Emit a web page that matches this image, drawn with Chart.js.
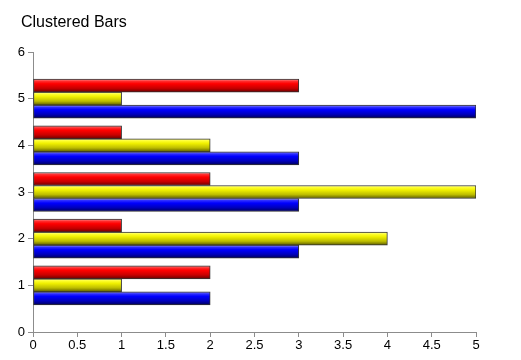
<!DOCTYPE html>
<html>
<head>
<meta charset="utf-8">
<script src="https://cdn.jsdelivr.net/npm/chart.js@4/dist/chart.umd.min.js"></script>
<style>
    body { margin: 0; background: #fff; }
    .wrap { position: relative; width: 521px; height: 360px; }
    #chart { display: block; }
    .title {
        position: absolute;
        left: 21px;
        top: 12px;
        font: 16px 'Liberation Sans', Arial, sans-serif;
        line-height: 20px;
        color: #000;
    }
</style>
</head>
<body>
<div class="wrap">
    <canvas id="chart" width="521" height="360"></canvas>
    <div class="title">Clustered Bars</div>
</div>
<script>
// Chart data
const categories = [1, 2, 3, 4, 5];
const redValues = [2, 1, 2, 1, 3];
const yellowValues = [1, 4, 5, 2, 1];
const blueValues = [2, 3, 3, 3, 5];
const xTicks = [0, 0.5, 1, 1.5, 2, 2.5, 3, 3.5, 4, 4.5, 5];
const yTicks = [0, 1, 2, 3, 4, 5, 6];

// Gradient stops for the shaded bars
const shades = {
    red: ['#ffa0a0', '#ff3030', '#ff0000', '#c80000', '#680000'],
    yellow: ['#ffffa8', '#ffff30', '#f0f000', '#bcbc00', '#5a5a00'],
    blue: ['#a0a0ff', '#3030ff', '#0000ff', '#0000bc', '#00005a']
};
const stopPos = [0, 0.15, 0.35, 0.7, 1];

function toPoints(values) {
    return values.map((v, i) => ({ x: v, y: categories[i] }));
}

// Paint each bar with a vertical gradient before drawing
const barShading = {
    id: 'barShading',
    beforeDatasetsDraw(chart) {
        const ctx = chart.ctx;
        chart.data.datasets.forEach((ds, di) => {
            const meta = chart.getDatasetMeta(di);
            meta.data.forEach(el => {
                const top = el.y - el.height / 2;
                const grad = ctx.createLinearGradient(0, top, 0, top + el.height);
                shades[ds.shade].forEach((c, k) => grad.addColorStop(stopPos[k], c));
                el.options = Object.assign({}, el.options, { backgroundColor: grad });
            });
        });
    }
};

const axisColor = '#8c8c8c';
const tickFont = { family: 'Liberation Sans', size: 13 };

const ctx = document.getElementById('chart').getContext('2d');
new Chart(ctx, {
    type: 'bar',
    data: {
        datasets: [
            { data: toPoints(redValues), shade: 'red', backgroundColor: '#ff0000' },
            { data: toPoints(yellowValues), shade: 'yellow', backgroundColor: '#ffff00' },
            { data: toPoints(blueValues), shade: 'blue', backgroundColor: '#0000ff' }
        ]
    },
    options: {
        responsive: false,
        animation: false,
        indexAxis: 'y',
        datasets: {
            bar: {
                barThickness: 13,
                borderWidth: 1,
                borderColor: '#333',
                borderSkipped: false
            }
        },
        layout: {
            padding: { left: 0, right: 45, top: 52, bottom: 0 }
        },
        plugins: {
            legend: { display: false },
            tooltip: { enabled: false },
            title: { display: false }
        },
        scales: {
            x: {
                type: 'linear',
                min: 0,
                max: 5,
                offset: false,
                afterBuildTicks: s => { s.ticks = xTicks.map(v => ({ value: v })); },
                afterFit: s => { s.height = 28; },
                grid: { drawOnChartArea: false, drawTicks: true, tickLength: 5, color: axisColor, offset: false },
                border: { display: true, color: axisColor },
                ticks: { color: '#000', font: tickFont, padding: 1, maxRotation: 0, callback: v => String(v) }
            },
            y: {
                type: 'linear',
                min: 0,
                max: 6,
                offset: false,
                afterBuildTicks: s => { s.ticks = yTicks.map(v => ({ value: v })); },
                afterFit: s => { s.width = 33; },
                grid: { drawOnChartArea: false, drawTicks: true, tickLength: 5, color: axisColor, offset: false },
                border: { display: true, color: axisColor },
                ticks: { color: '#000', font: tickFont, padding: 3, callback: v => String(v) }
            }
        }
    },
    plugins: [barShading]
});
</script>
</body>
</html>
